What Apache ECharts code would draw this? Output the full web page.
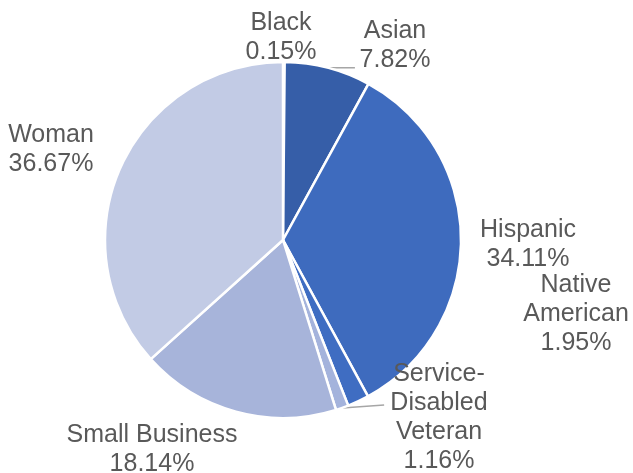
<!DOCTYPE html>
<html>
<head>
<meta charset="utf-8">
<style>
  html, body { margin: 0; padding: 0; background: #ffffff; }
  #chart { width: 633px; height: 473px; }
</style>
<script src="https://cdn.jsdelivr.net/npm/echarts@6/dist/echarts.min.js"></script>
</head>
<body>
<div id="chart"></div>
<script>
// Share of spending by business category (percent)
const categories = ['Black', 'Asian', 'Hispanic', 'Native\nAmerican', 'Service-\nDisabled\nVeteran', 'Small Business', 'Woman'];
const shares = [0.15, 7.82, 34.11, 1.95, 1.16, 18.14, 36.67];
const sliceColors = ['#264478', '#365EA8', '#3E6BBE', '#3F6DC2', '#A4B3DC', '#A7B4DA', '#C2CBE5'];

// Where each label block sits (centre point) and which ones get a leader line
const labelSpots = [
  [281, 38], [395, 46], [528, 245], [576, 314], [439, 418], [152, 450], [51, 150]
];
const leaderEnds = { 1: [27, 0], 4: [42, -3] };

const chart = echarts.init(document.getElementById('chart'), null, { renderer: 'canvas' });

chart.setOption({
  animation: false,
  backgroundColor: '#ffffff',
  series: [{
    type: 'pie',
    center: [283, 240],
    radius: 178,
    startAngle: 90,
    clockwise: true,
    avoidLabelOverlap: false,
    itemStyle: { borderColor: '#ffffff', borderWidth: 2.5 },
    label: {
      show: true,
      position: 'outside',
      color: '#595959',
      fontFamily: '"Liberation Sans", Arial, sans-serif',
      fontSize: 25,
      lineHeight: 29,
      width: 170,
      overflow: 'none',
      align: 'center',
      formatter: p => p.name + '\n' + shares[p.dataIndex].toFixed(2) + '%'
    },
    labelLine: { show: false, length: 0, length2: 20, lineStyle: { color: '#A6A6A6', width: 1.5 } },
    labelLayout: params => {
      const i = params.dataIndex;
      const out = {
        x: labelSpots[i][0],
        y: labelSpots[i][1],
        align: 'center',
        verticalAlign: 'middle'
      };
      if (leaderEnds[i] && params.labelLinePoints) {
        const s = params.labelLinePoints[0];
        out.labelLinePoints = [s, [s[0] + leaderEnds[i][0], s[1] + leaderEnds[i][1]]];
      }
      return out;
    },
    data: categories.map((name, i) => ({
      name: name,
      value: shares[i],
      itemStyle: { color: sliceColors[i] },
      labelLine: leaderEnds[i] ? { show: true } : { show: false }
    }))
  }]
});
</script>
</body>
</html>
